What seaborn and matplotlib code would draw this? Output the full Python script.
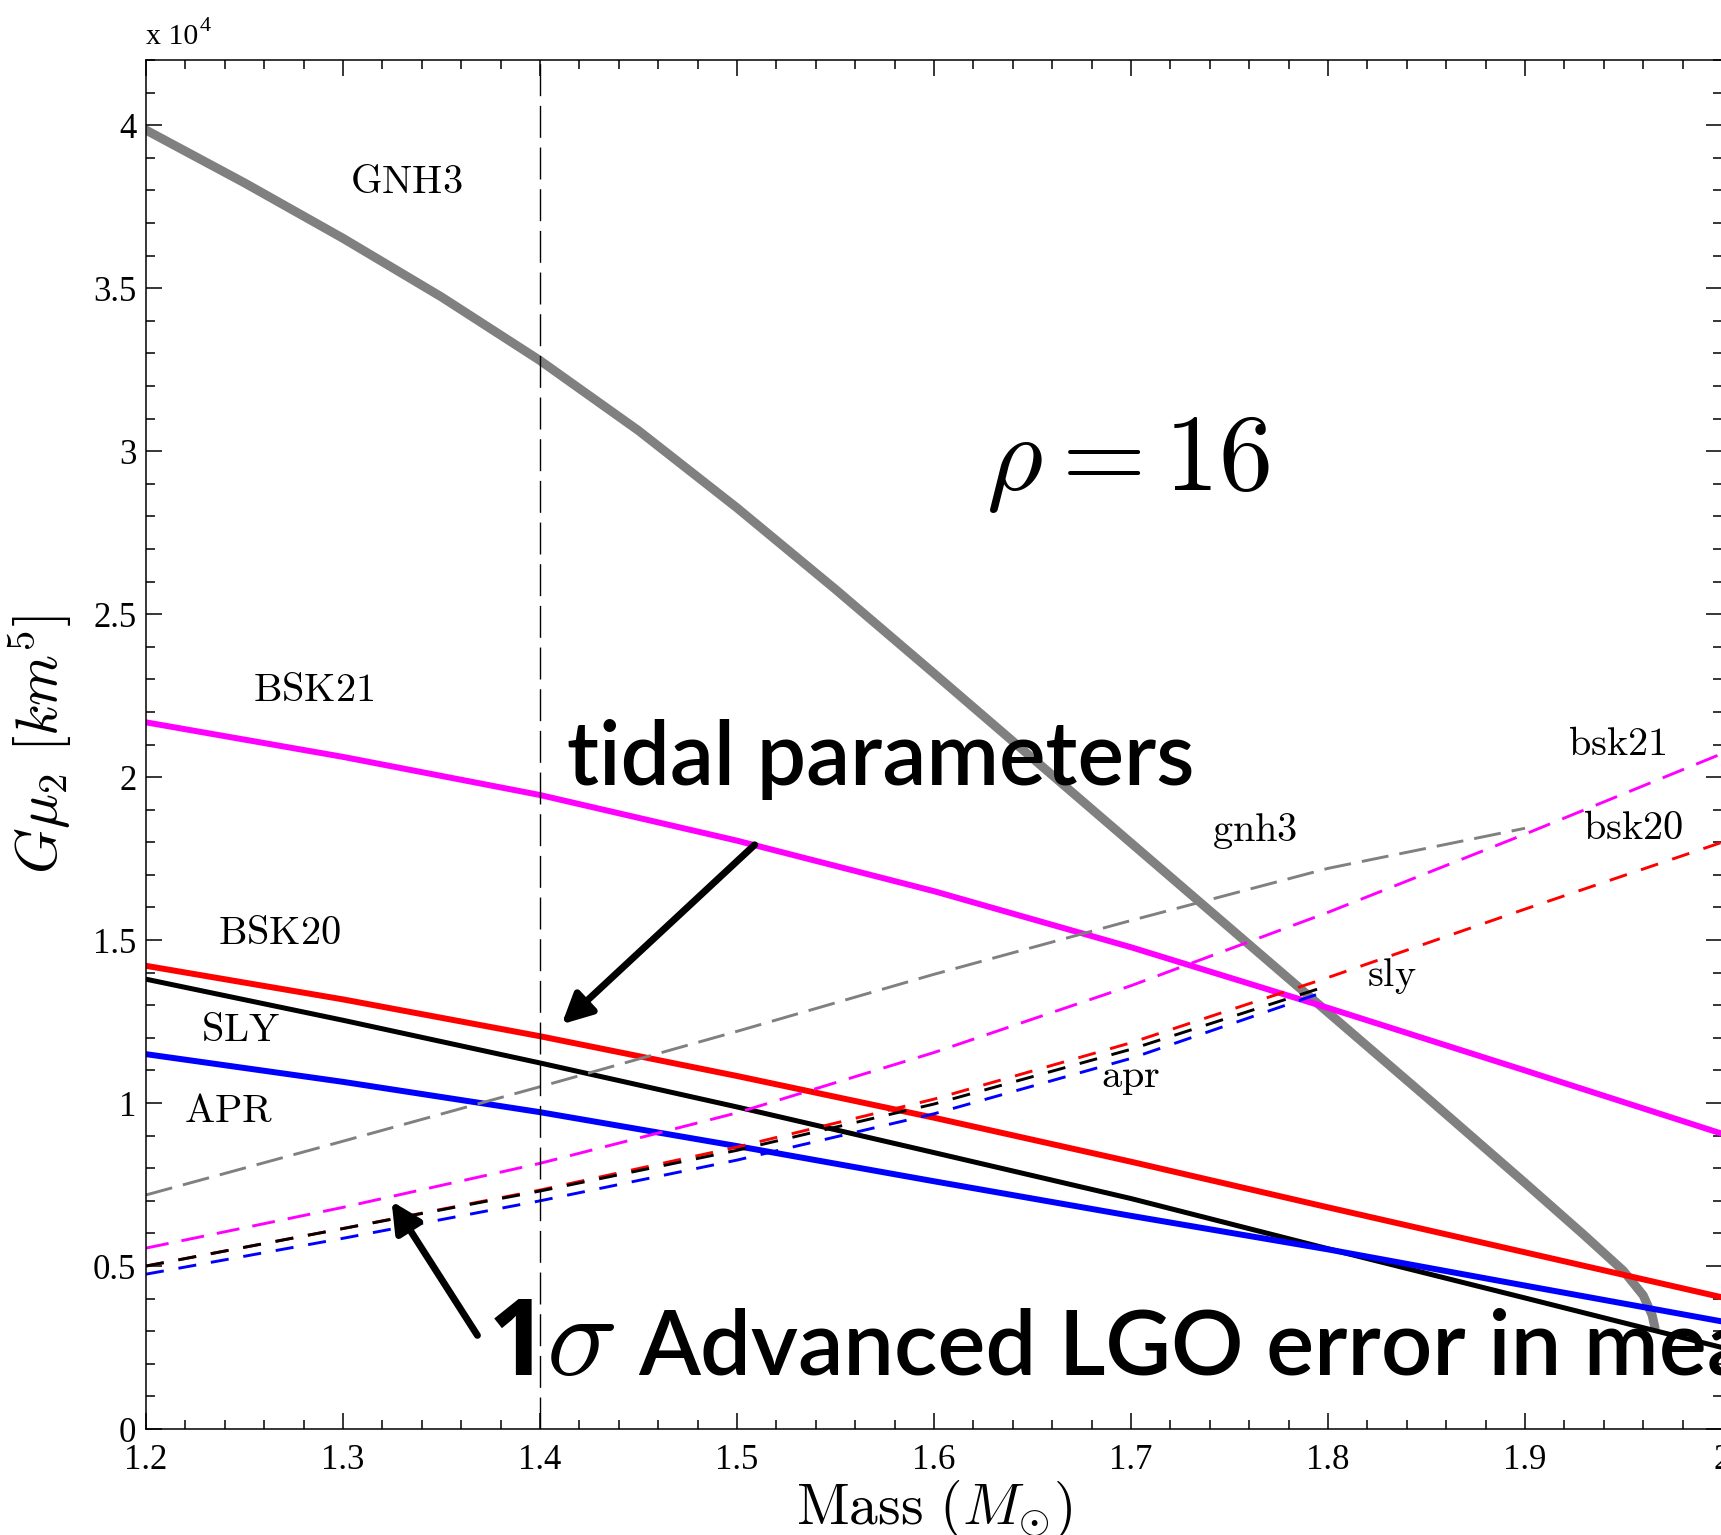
import matplotlib
matplotlib.use("Agg")
import matplotlib.pyplot as plt
import seaborn as sns
from matplotlib.ticker import MultipleLocator, FuncFormatter

# Tidal deformability G*mu_2 (in units of 1e4 km^5) against neutron-star mass
mass = [1.2, 1.3, 1.4, 1.5, 1.6, 1.7, 1.8, 1.9, 2.0]
bsk21 = [2.168, 2.062, 1.945, 1.805, 1.650, 1.478, 1.292, 1.100, 0.906]
bsk20 = [1.421, 1.318, 1.205, 1.083, 0.955, 0.820, 0.680, 0.542, 0.404]
sly = [1.380, 1.254, 1.123, 0.988, 0.848, 0.707, 0.553, 0.402, 0.250]
apr = [1.150, 1.065, 0.972, 0.868, 0.760, 0.654, 0.551, 0.440, 0.330]

gnh3_mass = [1.2, 1.25, 1.3, 1.35, 1.4, 1.45, 1.5, 1.55, 1.6, 1.65, 1.7,
             1.75, 1.8, 1.85, 1.9, 1.93, 1.95, 1.96, 1.9645, 1.966]
gnh3 = [3.985, 3.823, 3.653, 3.473, 3.278, 3.063, 2.826, 2.576, 2.318, 2.058,
        1.798, 1.538, 1.278, 1.018, 0.755, 0.595, 0.485, 0.410, 0.350, 0.310]

# 1-sigma Advanced LIGO measurement errors
err_gnh3_mass = [1.2, 1.3, 1.4, 1.5, 1.6, 1.7, 1.8, 1.9]
err_gnh3 = [0.718, 0.883, 1.050, 1.220, 1.395, 1.560, 1.720, 1.843]
err_bsk21 = [0.555, 0.680, 0.815, 0.970, 1.155, 1.360, 1.585, 1.825, 2.072]
err_bsk20 = [0.500, 0.615, 0.733, 0.865, 1.012, 1.185, 1.385, 1.595, 1.800]
err_short_mass = [1.2, 1.3, 1.4, 1.5, 1.6, 1.7, 1.8]
err_sly = [0.500, 0.615, 0.730, 0.855, 0.997, 1.165, 1.360]
err_apr = [0.475, 0.585, 0.700, 0.825, 0.967, 1.137, 1.345]

GRAY, MAGENTA, RED, BLUE, BLACK = "#808080", "#ff00ff", "#ff0000", "#0000ff", "#000000"

sns.set_theme(style="ticks")
plt.rcParams.update({
    "font.family": ["Liberation Serif", "DejaVu Serif"],
    "mathtext.fontset": "cm",
    "text.color": "black",
    "axes.labelcolor": "black",
    "axes.linewidth": 1.1,
    "axes.edgecolor": "black",
    "xtick.color": "black",
    "ytick.color": "black",
})

W, H = 1721, 1535
fig = plt.figure(figsize=(W / 100, H / 100), dpi=100)
ax = fig.add_axes([146 / W, 106 / H, 1576 / W, 1369 / H])
ax.set_facecolor("white")


def curve(x, y, color, lw, ls="-"):
    sns.lineplot(x=x, y=y, ax=ax, color=color, linewidth=lw, linestyle=ls,
                 sort=False, estimator=None, legend=False)


# EOS curves
curve(gnh3_mass, gnh3, GRAY, 6.5)
curve(mass, bsk21, MAGENTA, 4.3)
curve(mass, bsk20, RED, 4.3)
curve(mass, sly, BLACK, 3.6)
curve(mass, apr, BLUE, 4.3)

# error curves
curve(err_gnh3_mass, err_gnh3, GRAY, 2.1, (0, (9.3, 3.8)))
curve(mass, err_bsk21, MAGENTA, 2.1, (0, (7.9, 4.5)))
curve(mass, err_bsk20, RED, 2.1, (0, (6.2, 5.1)))
curve(err_short_mass, err_sly, BLACK, 2.1, (0, (6.2, 5.1)))
curve(err_short_mass, err_apr, BLUE, 2.1, (0, (6.2, 5.1)))

# canonical 1.4 Msun mass
ax.axvline(1.4, color="black", lw=1.0, ls=(0, (23, 7)))

ax.set_xlim(1.2, 2.0)
ax.set_ylim(0, 4.2)
ax.xaxis.set_major_locator(MultipleLocator(0.1))
ax.xaxis.set_minor_locator(MultipleLocator(0.02))
ax.yaxis.set_major_locator(MultipleLocator(0.5))
ax.yaxis.set_minor_locator(MultipleLocator(0.1))
fmt = FuncFormatter(lambda v, _: f"{v:g}")
ax.xaxis.set_major_formatter(fmt)
ax.yaxis.set_major_formatter(fmt)
ax.tick_params(which="both", direction="in", top=True, right=True,
               width=1.1, labelsize=25)
ax.tick_params(which="major", length=11.5)
ax.tick_params(which="minor", length=6.5)
ax.tick_params(axis="x", pad=11)
ax.tick_params(axis="y", pad=7)
for s in ax.spines.values():
    s.set_visible(True)
    s.set_color("black")

ax.set_xlabel(r"$\mathrm{Mass}\ (M_{\odot})$", fontsize=41.5)
ax.set_ylabel(r"$G\mu_2\ [km^5]$", fontsize=42)
ax.xaxis.set_label_coords(0.5, -0.036)
ax.yaxis.set_label_coords(-0.046, 0.5)

fig.text(146 / W, 1 - 44 / H, "x 10", fontsize=21.5, ha="left", va="baseline")
fig.text(200 / W, 1 - 31 / H, "4", fontsize=16, ha="left", va="baseline")

# curve labels
labels = [
    (1.332, 3.822, "GNH3"), (1.285, 2.262, "BSK21"), (1.2675, 1.518, "BSK20"),
    (1.248, 1.218, "SLY"), (1.242, 0.972, "APR"),
    (1.763, 1.834, "gnh3"), (1.947, 2.098, "bsk21"), (1.955, 1.838, "bsk20"),
    (1.8325, 1.39, "sly"), (1.70, 1.074, "apr"),
]
for x, y, t in labels:
    ax.text(x, y, r"$\mathrm{%s}$" % t, fontsize=29, ha="center", va="center")

ax.text(1.6985, 2.96, r"$\rho = 16$", fontsize=78, ha="center", va="center")

sans = ["Lato", "DejaVu Sans"]
ax.text(1.4137, 1.975, "tidal parameters", fontsize=63, family=sans,
        fontweight="semibold", ha="left", va="baseline")
ax.text(1.3735, 0.166, "1", fontsize=76, family=["Open Sans", "DejaVu Sans"],
        fontweight="bold", ha="left", va="baseline")
ax.text(1.4030, 0.166, r"$\sigma$", fontsize=85, ha="left", va="baseline")
ax.text(1.4500, 0.166, "Advanced LGO error in measurement", fontsize=65,
        family=sans, fontweight="semibold", ha="left", va="baseline")

arrow = dict(arrowstyle="-|>", lw=5, color="black", mutation_scale=45)
ax.annotate("", xy=(1.410, 1.236), xytext=(1.510, 1.798), arrowprops=arrow)
ax.annotate("", xy=(1.3239, 0.706), xytext=(1.369, 0.28), arrowprops=arrow)

fig.savefig("out.png", dpi=100, facecolor="white")
